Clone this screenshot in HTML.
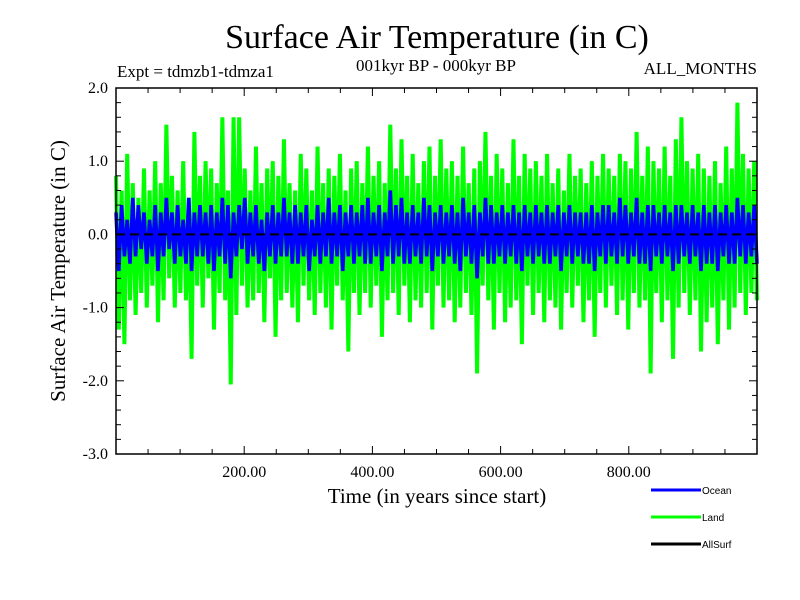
<!DOCTYPE html>
<html><head><meta charset="utf-8"><style>
body{margin:0;background:#fff}
svg{display:block;font-family:"Liberation Serif",serif}
</style></head><body>
<svg id="chart" width="800" height="600">
<text x="437" y="48" font-size="34" text-anchor="middle">Surface Air Temperature (in C)</text>
<text x="117" y="77" font-size="17">Expt = tdmzb1-tdmza1</text>
<text x="436" y="71" font-size="17" text-anchor="middle">001kyr BP - 000kyr BP</text>
<text x="757" y="74" font-size="17" text-anchor="end">ALL_MONTHS</text>
<text transform="translate(65,271) rotate(-90)" font-size="21" text-anchor="middle">Surface Air Temperature (in C)</text>
<text x="437" y="503" font-size="21" text-anchor="middle">Time (in years since start)</text>
<g id="marks"></g>
<g id="axes"></g>
<g id="legend"></g>
</svg>
<script>
const xTicks=[200,400,600,800];
const xTickLabels=["200.00","400.00","600.00","800.00"];
const yTicks=[2,1,0,-1,-2,-3];
const yTickLabels=["2.0","1.0","0.0","-1.0","-2.0","-3.0"];
const seriesNames=["Ocean","Land","AllSurf"];
const land=[0.8,-1.3,0.6,-1.5,1.1,-0.9,0.7,-1.1,0.5,-0.8,0.9,-1.0,0.6,-0.7,1.0,-1.2,0.7,-0.9,1.5,-0.6,0.8,-1.0,0.6,-0.8,1.0,-0.9,0.5,-1.7,1.4,-0.7,
0.8,-1.0,1.0,-0.6,0.9,-1.3,0.7,-0.8,1.6,-0.9,0.6,-2.05,1.6,-1.1,1.6,-0.7,0.9,-1.0,0.6,-0.9,1.2,-0.8,0.7,-1.2,0.9,-0.6,1.0,-1.4,0.8,-0.9,
1.3,-0.8,0.7,-1.0,0.6,-1.2,1.1,-0.7,0.9,-0.9,0.6,-1.1,1.2,-0.8,0.7,-1.0,0.9,-1.3,0.8,-0.7,1.1,-0.9,0.6,-1.6,0.9,-0.8,1.0,-1.1,0.7,-0.8,
1.2,-1.0,0.8,-0.7,1.0,-1.4,0.7,-0.9,1.5,-0.8,0.9,-1.1,1.3,-0.7,0.8,-1.2,1.1,-0.9,0.7,-1.0,1.0,-0.8,1.2,-1.3,0.8,-0.7,1.3,-1.0,0.9,-0.9,
1.0,-1.2,0.8,-1.0,1.2,-0.8,0.7,-1.1,0.9,-1.9,1.0,-0.7,1.4,-0.9,0.8,-1.3,1.1,-0.8,0.9,-1.2,0.7,-1.0,1.3,-0.9,0.8,-1.5,1.1,-0.7,0.9,-1.1,
1.0,-0.8,0.8,-1.2,1.1,-0.9,0.7,-1.0,0.9,-1.3,0.6,-0.8,1.1,-1.0,0.8,-0.7,0.9,-1.2,0.7,-0.9,1.0,-1.4,0.8,-0.8,1.1,-1.0,0.9,-0.7,0.8,-1.1,
1.1,-0.9,1.0,-1.3,0.9,-0.8,1.4,-1.0,0.8,-0.9,1.2,-1.9,1.0,-0.8,0.9,-1.2,1.2,-0.9,0.8,-1.7,1.3,-1.0,1.6,-0.8,1.0,-1.1,0.9,-0.9,1.1,-1.6,
0.9,-1.2,0.8,-1.0,1.0,-1.5,0.7,-0.9,1.2,-1.3,0.9,-1.0,1.8,-0.8,1.1,-1.1,0.9,-0.8,1.0,-0.9];
const ocean=[0.3,-0.5,0.4,-0.3,0.2,-0.4,0.5,-0.3,0.4,-0.2,0.3,-0.4,0.2,-0.3,0.4,-0.5,0.3,-0.3,0.5,-0.2,0.3,-0.4,0.4,-0.3,0.2,-0.4,0.5,-0.5,0.3,-0.3,
0.4,-0.3,0.3,-0.4,0.4,-0.5,0.3,-0.3,0.5,-0.4,0.4,-0.6,0.3,-0.3,0.4,-0.2,0.5,-0.4,0.3,-0.3,0.4,-0.4,0.2,-0.5,0.3,-0.3,0.4,-0.4,0.3,-0.3,
0.5,-0.3,0.3,-0.4,0.4,-0.4,0.3,-0.3,0.4,-0.5,0.2,-0.3,0.4,-0.4,0.3,-0.3,0.5,-0.4,0.3,-0.3,0.4,-0.5,0.3,-0.3,0.4,-0.4,0.3,-0.3,0.4,-0.4,
0.5,-0.4,0.3,-0.3,0.4,-0.5,0.3,-0.3,0.6,-0.4,0.4,-0.3,0.5,-0.4,0.3,-0.4,0.4,-0.3,0.3,-0.4,0.5,-0.3,0.4,-0.5,0.3,-0.3,0.4,-0.4,0.3,-0.3,
0.4,-0.4,0.3,-0.5,0.5,-0.3,0.3,-0.4,0.4,-0.6,0.3,-0.3,0.5,-0.4,0.4,-0.4,0.3,-0.3,0.4,-0.4,0.3,-0.3,0.4,-0.4,0.3,-0.5,0.4,-0.3,0.3,-0.4,
0.4,-0.3,0.3,-0.4,0.4,-0.4,0.3,-0.3,0.4,-0.5,0.3,-0.3,0.4,-0.4,0.3,-0.3,0.3,-0.4,0.3,-0.4,0.4,-0.5,0.3,-0.3,0.4,-0.4,0.4,-0.3,0.3,-0.4,
0.5,-0.3,0.4,-0.4,0.3,-0.3,0.5,-0.4,0.3,-0.4,0.4,-0.5,0.4,-0.3,0.3,-0.4,0.4,-0.3,0.3,-0.5,0.4,-0.4,0.4,-0.3,0.3,-0.4,0.4,-0.3,0.3,-0.5,
0.4,-0.4,0.3,-0.4,0.4,-0.5,0.3,-0.3,0.4,-0.4,0.3,-0.4,0.5,-0.3,0.4,-0.4,0.3,-0.3,0.4,-0.4];
const allSurf=[0.0,0.0];
const NS="http://www.w3.org/2000/svg";
const X0=116,X1=757,Y0=88,Y1=454;
function xs(t){return X0+(t/1000)*(X1-X0);}
function ys(v){return Y0+(2-v)/5*(Y1-Y0);}
function el(tag,attrs,parent){const e=document.createElementNS(NS,tag);for(const k in attrs)e.setAttribute(k,attrs[k]);parent.appendChild(e);return e;}
const marks=document.getElementById('marks');
function line(arr,color,w,name,dash){
  const n=arr.length;
  const pts=arr.map((v,i)=>xs(n===1?0:i*1000/(n-1)).toFixed(2)+","+ys(v).toFixed(2)).join(" ");
  const p=el('polyline',{points:pts,fill:'none',stroke:color,'stroke-width':w,'stroke-linejoin':'miter','stroke-miterlimit':2},marks);
  if(dash)p.setAttribute('stroke-dasharray',dash);
  
  
}
line(land,'#00ff00',4,'land-series');
line(ocean,'#0000ff',3.6,'ocean-series');
line(allSurf,'#000000',2,'allsurf-series','9,5');
const axes=document.getElementById('axes');
const frame=el('rect',{x:X0,y:Y0,width:X1-X0,height:Y1-Y0,fill:'none',stroke:'#000','stroke-width':1.5},axes);


for(let t=50;t<1000;t+=50){
  const big=(t%200===0);
  const L=big?8:5;
  el('line',{x1:xs(t),x2:xs(t),y1:Y1,y2:Y1-L,stroke:'#000'},axes);
  el('line',{x1:xs(t),x2:xs(t),y1:Y0,y2:Y0+L,stroke:'#000'},axes);
}
for(let k=1;k<25;k++){
  const v=2-k*0.2;const big=(k%5===0);const L=big?8:5;
  el('line',{x1:X0,x2:X0+L,y1:ys(v),y2:ys(v),stroke:'#000'},axes);
  el('line',{x1:X1,x2:X1-L,y1:ys(v),y2:ys(v),stroke:'#000'},axes);
}
xTicks.forEach((t,i)=>{
  const tx=el('text',{x:xs(t),y:477,'font-size':16,'text-anchor':'middle'},axes);
  tx.textContent=xTickLabels[i];
  
  
});
yTicks.forEach((v,i)=>{
  const tx=el('text',{x:108,y:ys(v)+5,'font-size':16,'text-anchor':'end'},axes);
  tx.textContent=yTickLabels[i];
  
  
});
const legend=document.getElementById('legend');
const lcolors=['#0000ff','#00ff00','#000000'];
seriesNames.forEach((s,i)=>{
  const y=490+i*27;
  const g=el('g',{},legend);
  
  
  el('line',{x1:651,x2:701,y1:y,y2:y,stroke:lcolors[i],'stroke-width':3},g);
  const tx=el('text',{x:702,y:y+4,'font-size':10,'font-family':'Liberation Sans, sans-serif'},g);
  tx.textContent=s;
});
</script>
</body></html>
